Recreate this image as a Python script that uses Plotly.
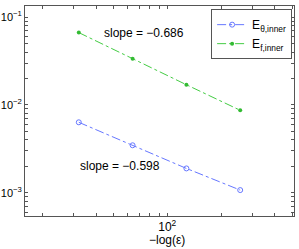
import numpy as np
import plotly.graph_objects as go

x_vals = [32, 64, 128, 256]
e_theta = [0.00634, 0.00347, 0.00189, 0.00107]
e_f = [0.0668, 0.0336, 0.0170, 0.00869]

x_ticks = [20, 30, 40, 50, 60, 70, 80, 90, 100, 200, 300, 400, 500]
x_ticktext = ["" if v != 100 else "10<sup>2</sup>" for v in x_ticks]
y_ticks = [6e-4, 7e-4, 8e-4, 9e-4, 1e-3, 2e-3, 3e-3, 4e-3, 5e-3, 6e-3, 7e-3, 8e-3, 9e-3,
           1e-2, 2e-2, 3e-2, 4e-2, 5e-2, 6e-2, 7e-2, 8e-2, 9e-2, 1e-1]
y_label_map = {1e-3: "10<sup>−3</sup>", 1e-2: "10<sup>−2</sup>", 1e-1: "10<sup>−1</sup>"}
y_ticktext = [y_label_map.get(v, "") for v in y_ticks]

fig = go.Figure()
fig.add_trace(go.Scatter(
    x=x_vals, y=e_theta, mode="lines+markers",
    name="E<sub>θ,inner</sub>",
    line=dict(color="#6677ff", width=1, dash="dashdot"),
    marker=dict(symbol="circle-open", size=5, color="#6677ff", line=dict(width=1)),
))
fig.add_trace(go.Scatter(
    x=x_vals, y=e_f, mode="lines+markers",
    name="E<sub>f,inner</sub>",
    line=dict(color="#44cc44", width=1, dash="dashdot"),
    marker=dict(symbol="circle", size=4, color="#33bb33"),
))

fig.add_annotation(x=np.log10(74), y=np.log10(0.0664), text="slope = −0.686",
                   showarrow=False, font=dict(size=12, color="black"))
fig.add_annotation(x=np.log10(54.3), y=np.log10(0.00204), text="slope = −0.598",
                   showarrow=False, font=dict(size=12, color="black"))
fig.add_annotation(x=np.log10(100), xref="x", y=0, yref="paper", yshift=-15,
                   text="−log(ε)", showarrow=False, yanchor="top",
                   font=dict(size=12, color="black"))

axis_common = dict(showgrid=False, zeroline=False, showline=True, linecolor="#555555",
                   linewidth=1, mirror="ticks", ticks="inside", ticklen=3,
                   tickcolor="#555555", automargin=False)

fig.update_xaxes(type="log", range=[np.log10(16), np.log10(512)],
                 tickmode="array", tickvals=x_ticks, ticktext=x_ticktext,
                 tickfont=dict(size=12, color="black"), **axis_common)
fig.update_yaxes(type="log", range=[-3.266, -0.872],
                 tickmode="array", tickvals=y_ticks, ticktext=y_ticktext,
                 tickfont=dict(size=11, color="black"), **axis_common)

fig.update_layout(
    width=299, height=249,
    margin=dict(l=25, r=5, t=6, b=33),
    plot_bgcolor="white", paper_bgcolor="white",
    font=dict(family="Liberation Sans, Arial, sans-serif", color="black"),
    legend=dict(x=0.993, y=0.985, xanchor="right", yanchor="top",
                bordercolor="#555555", borderwidth=1, bgcolor="white",
                font=dict(size=12), tracegroupgap=0, itemwidth=30),
    showlegend=True,
)

fig.write_html("out.html", config={"displayModeBar": False},
               post_script="document.body.style.margin='0';document.body.style.overflow='hidden';")
